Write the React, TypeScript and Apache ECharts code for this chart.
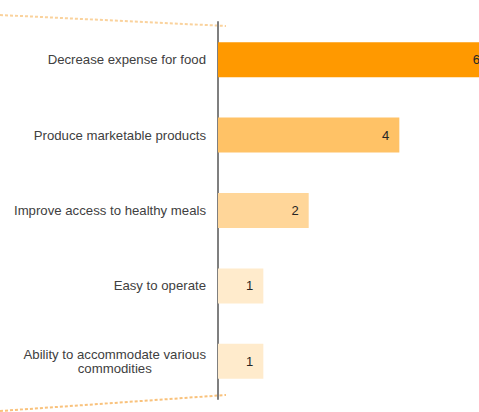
import React, { useEffect, useRef } from "react";
import * as echarts from "echarts";

const categories = [
  "Decrease expense for food",
  "Produce marketable products",
  "Improve access to healthy meals",
  "Easy to operate",
  "Ability to accommodate various\ncommodities",
];
const values = [6, 4, 2, 1, 1];
const barColors = ["#FF9900", "#FFC266", "#FFD699", "#FFEBCC", "#FFEBCC"];

const FONT = "'Liberation Sans', Arial, sans-serif";

export default function App() {
  const ref = useRef<HTMLDivElement>(null);
  useEffect(() => {
    if (!ref.current) return;
    const chart = echarts.init(ref.current, undefined, { renderer: "svg" });
    chart.setOption({
      animation: false,
      grid: { left: 218, top: 22, width: 272, height: 377, outerBoundsMode: "none", containLabel: false },
      xAxis: { type: "value", min: 0, max: 6, show: false },
      yAxis: {
        type: "category",
        data: categories,
        inverse: true,
        axisLine: { show: true, lineStyle: { color: "#7f7f7f", width: 2 } },
        axisTick: { show: false },
        splitLine: { show: false },
        axisLabel: {
          margin: 12,
          color: "#404040",
          fontFamily: FONT,
          fontSize: 13.2,
          lineHeight: 14,
          formatter: (v: string) => v.split("\n").map((l) => `{c|${l}}`).join("\n"),
          rich: { c: { align: "center", color: "#404040", fontSize: 13.2, lineHeight: 14, fontFamily: FONT } },
        },
      },
      series: [
        {
          type: "bar",
          barWidth: 35,
          data: values.map((v, i) => ({ value: v, itemStyle: { color: barColors[i] } })),
          label: {
            show: true,
            position: "insideRight",
            distance: 10,
            color: "#262626",
            fontFamily: FONT,
            fontSize: 13,
          },
        },
      ],
      graphic: [
        {
          type: "line",
          shape: { x1: 0, y1: 15, x2: 226, y2: 26 },
          style: { stroke: "#FAD29C", lineWidth: 2, lineDash: [3, 2] },
        },
        {
          type: "line",
          shape: { x1: 0, y1: 411, x2: 226, y2: 395 },
          style: { stroke: "#F9C27C", lineWidth: 2, lineDash: [3, 2] },
        },
      ],
    });
    return () => chart.dispose();
  }, []);
  return (
    <div style={{ position: "fixed", left: 0, top: 0, width: 479, height: 412, overflow: "hidden", background: "#fff" }}>
      <div ref={ref} style={{ width: 510, height: 412 }} />
    </div>
  );
}
